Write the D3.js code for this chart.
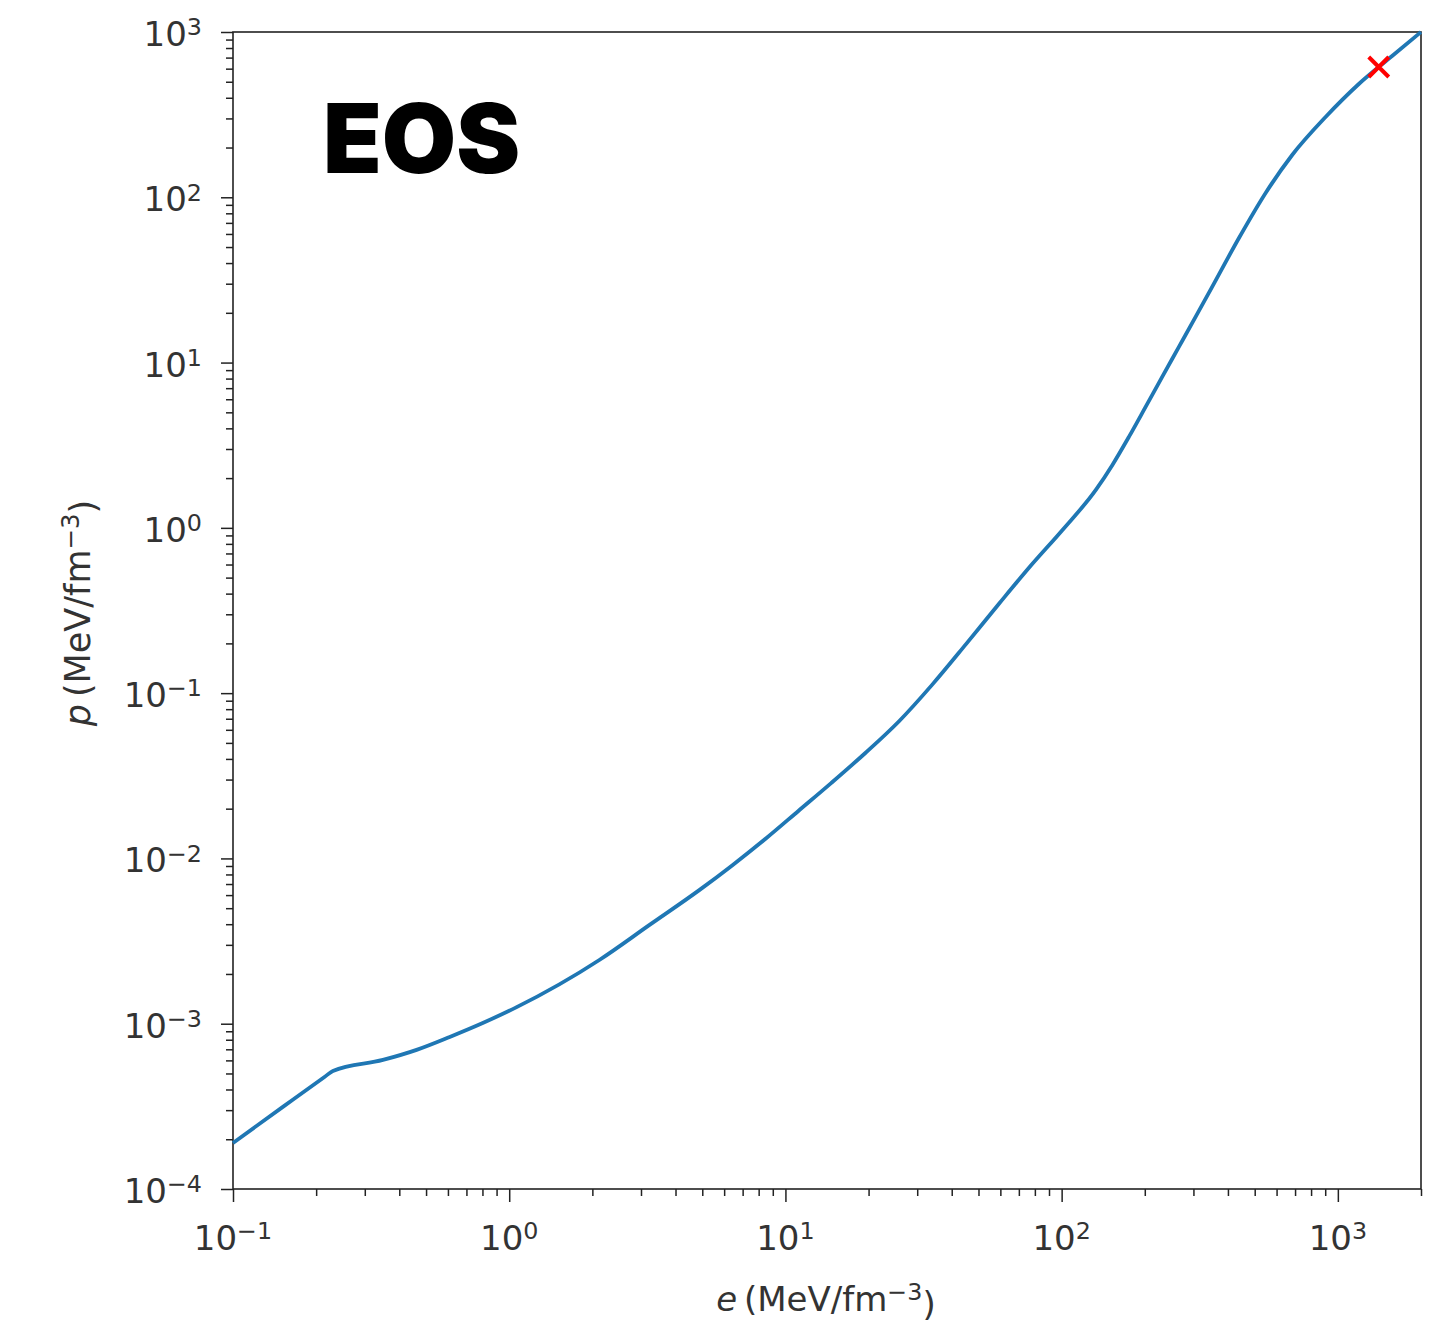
<!DOCTYPE html>
<html>
<head>
<meta charset="utf-8">
<script src="https://cdn.jsdelivr.net/npm/d3@7"></script>
<style>
  html, body { margin: 0; padding: 0; background: #fff; }
  svg { display: block; }
</style>
</head>
<body>
<svg id="chart" width="1445" height="1326"></svg>
<script>
// ---- data ----
const energyDensity = [0.1, 0.152, 0.215, 0.230, 0.349, 0.462, 0.609, 0.802, 1.064, 2.12, 3.222, 4.89, 6.43, 8.54, 11.14, 14.67, 19.47, 25.84, 34.01, 45.14, 59.42, 76.3, 100.7, 133, 152.7, 175.4, 201.6, 231.5, 266.1, 305.8, 351.1, 438.5, 547.7, 683.4, 902.8, 1191, 1572, 2000];
const pressure      = [1.90e-4, 3.15e-4, 4.78e-4, 5.18e-4, 6.04e-4, 6.95e-4, 8.32e-4, 1.01e-3, 1.26e-3, 2.43e-3, 3.96e-3, 6.45e-3, 9.10e-3, 0.01329, 0.01938, 0.02865, 0.04345, 0.06787, 0.1126, 0.1987, 0.3484, 0.5752, 0.971, 1.696, 2.402, 3.562, 5.41, 8.22, 12.48, 18.95, 28.8, 56.7, 106.2, 180.3, 306.0, 484.6, 715.6, 1000];
const markerE = [1406];
const markerP = [614];
const xMajorExps = [-1, 0, 1, 2, 3];
const yMajorExps = [-4, -3, -2, -1, 0, 1, 2, 3];
const xDomain = [0.1, 2000];
const yDomain = [1e-4, 1e3];
const titleText = "EOS";

// ---- layout ----
const plotLeft = 233, plotRight = 1421, plotTop = 32, plotBottom = 1189;
const svg = d3.select("#chart");

const x = d3.scaleLog().domain(xDomain).range([plotLeft, plotRight]);
const y = d3.scaleLog().domain(yDomain).range([plotBottom, plotTop]);

function minorTicks(domain) {
  const out = [];
  const lo = Math.floor(Math.log10(domain[0])), hi = Math.ceil(Math.log10(domain[1]));
  for (let k = lo; k <= hi; k++) {
    for (let m = 2; m <= 9; m++) {
      const v = m * Math.pow(10, k);
      if (v >= domain[0] * 0.9999 && v <= domain[1] * 1.0001) out.push(v);
    }
  }
  return out;
}

const axisColor = "#222";
const fontFam = "'DejaVu Sans', sans-serif";

// minor ticks
const gxMinor = svg.append("g").attr("transform", `translate(0,${plotBottom})`)
  .call(d3.axisBottom(x).tickValues(minorTicks(xDomain)).tickSize(7).tickFormat(""));
const gyMinor = svg.append("g").attr("transform", `translate(${plotLeft},0)`)
  .call(d3.axisLeft(y).tickValues(minorTicks(yDomain)).tickSize(7).tickFormat(""));
// major ticks
const gx = svg.append("g").attr("transform", `translate(0,${plotBottom})`)
  .call(d3.axisBottom(x).tickValues(xMajorExps.map(e => Math.pow(10, e))).tickSize(13).tickFormat(""));
const gy = svg.append("g").attr("transform", `translate(${plotLeft},0)`)
  .call(d3.axisLeft(y).tickValues(yMajorExps.map(e => Math.pow(10, e))).tickSize(12).tickFormat(""));

[gxMinor, gyMinor, gx, gy].forEach(g => {
  g.select(".domain").remove();
  g.selectAll(".tick line").attr("stroke", axisColor).attr("stroke-width", 1.5);
});

// frame
svg.append("rect")
  .attr("x", plotLeft).attr("y", plotTop)
  .attr("width", plotRight - plotLeft).attr("height", plotBottom - plotTop)
  .attr("fill", "none").attr("stroke", axisColor).attr("stroke-width", 1.6);

function expLabel(sel, exp) {
  sel.append("tspan").text("10");
  sel.append("tspan").attr("dy", "-0.45em").attr("font-size", "0.7em")
    .text(exp < 0 ? "\u2212" + Math.abs(exp) : String(exp));
}

// x tick labels
xMajorExps.forEach(e => {
  const t = svg.append("text")
    .attr("x", x(Math.pow(10, e)))
    .attr("y", 1250)
    .attr("text-anchor", "middle")
    .attr("font-family", fontFam)
    .attr("font-size", 34)
    .attr("fill", "#333");
  expLabel(t, e);
});
// y tick labels
yMajorExps.forEach(e => {
  const t = svg.append("text")
    .attr("x", 202)
    .attr("y", y(Math.pow(10, e)) + 14)
    .attr("text-anchor", "end")
    .attr("font-family", fontFam)
    .attr("font-size", 34)
    .attr("fill", "#333");
  expLabel(t, e);
});

// axis labels
function unitLabel(t, varName) {
  t.append("tspan").attr("font-style", "italic").text(varName);
  t.append("tspan").text("\u2009(MeV/fm");
  t.append("tspan").attr("dy", "-0.45em").attr("font-size", "0.7em").text("\u22123");
  t.append("tspan").attr("dy", "0.45em").text(")");
}
const xl = svg.append("text")
  .attr("x", 826).attr("y", 1311)
  .attr("text-anchor", "middle")
  .attr("font-family", fontFam).attr("font-size", 34).attr("fill", "#333");
unitLabel(xl, "e");

const yl = svg.append("text")
  .attr("transform", "translate(90,613) rotate(-90)")
  .attr("text-anchor", "middle")
  .attr("font-family", fontFam).attr("font-size", 35).attr("fill", "#333");
unitLabel(yl, "p");

// curve
const pts = energyDensity.map((e, i) => [e, pressure[i]]);
svg.append("path")
  .datum(pts)
  .attr("fill", "none")
  .attr("stroke", "#1f77b4")
  .attr("stroke-width", 3.8)
  .attr("stroke-linejoin", "round")
  .attr("d", d3.line().x(d => x(d[0])).y(d => y(d[1])).curve(d3.curveMonotoneX));

// marker X
markerE.forEach((e, i) => {
  const cx = x(e), cy = y(markerP[i]), r = 10;
  svg.append("path")
    .attr("d", `M${cx - r},${cy - r}L${cx + r},${cy + r}M${cx - r},${cy + r}L${cx + r},${cy - r}`)
    .attr("stroke", "#ff0000").attr("stroke-width", 4).attr("fill", "none");
});

// title
svg.append("text")
  .attr("x", 323).attr("y", 173)
  .attr("font-family", "Inter, 'Open Sans', sans-serif")
  .attr("font-weight", 900)
  .attr("font-size", 96)
  .attr("fill", "#000")
  .text(titleText);
</script>
</body>
</html>
